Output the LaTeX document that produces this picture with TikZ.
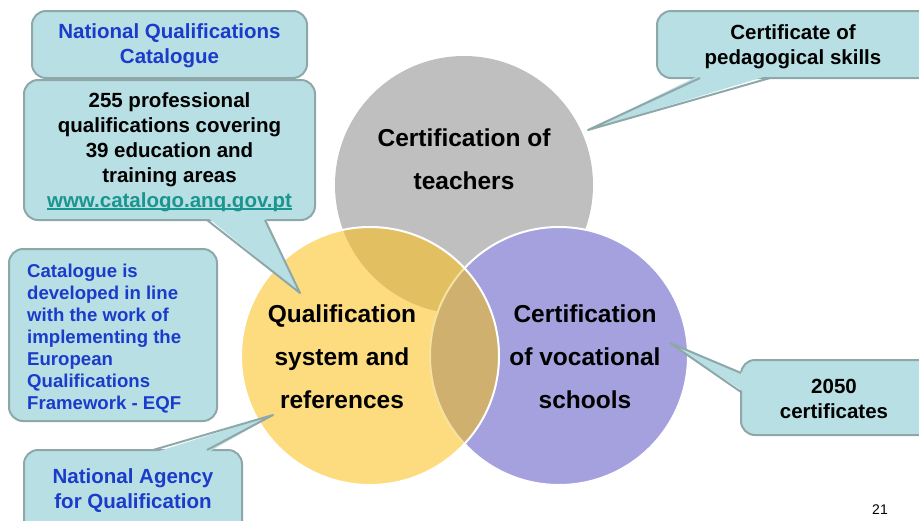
\documentclass[tikz,border=0pt]{standalone}
\usepackage{fontspec}
\setmainfont{Liberation Sans}
\usetikzlibrary{calc}
\definecolor{cgray}{HTML}{BFBFBF}
\definecolor{cyel}{HTML}{FDDC80}
\definecolor{cpur}{HTML}{A4A1DE}
\definecolor{cgy}{HTML}{E2C062}
\definecolor{cyp}{HTML}{CFB06E}
\definecolor{cline}{HTML}{F6E2A0}
\definecolor{bfill}{HTML}{B8DFE3}
\definecolor{bline}{HTML}{8EA8A9}
\definecolor{tblue}{HTML}{1B3BCB}
\definecolor{tlink}{HTML}{1A9590}
\newcommand\ulx[1]{\setbox0\hbox{#1}\rlap{\rule[-2.4pt]{\wd0}{1.8pt}}\box0}
\tikzset{
  callbox/.style={draw=bline, fill=bfill, line width=2pt, rounded corners=14pt, rectangle, inner sep=0pt},
  callside/.style={draw=bline, line width=2pt, line join=round},
  callfill/.style={fill=bfill},
  calltxt/.style={font=\bfseries\fontsize{20.5}{25}\selectfont, align=center, inner sep=0pt},
  smalltxt/.style={font=\bfseries\fontsize{18.6}{22}\selectfont, align=left, inner sep=0pt, text=tblue},
  circtxt/.style={font=\bfseries\fontsize{24.5}{43}\selectfont, align=center, inner sep=0pt},
  circ/.style={circle, minimum size=258pt, inner sep=0pt},
}
\begin{document}
\begin{tikzpicture}[x=1pt,y=-1pt]
\useasboundingbox (0,0) rectangle (919,520);
% circles
\node[circ, fill=cgray] (G) at (464,185) {};
\node[circ, fill=cpur, draw=white, line width=2pt] (P) at (559,356) {};
\node[circ, fill=cyel] (Y) at (370,356) {};
\begin{scope}
  \clip (Y.center) circle (129pt);
  \fill[cgy] (G.center) circle (129pt);
  \fill[cyp] (P.center) circle (129pt);
  \draw[cline, line width=2pt] (P.center) circle (129pt);
\end{scope}
\draw[white, line width=2pt] (Y.center) circle (129pt);
\node[circtxt] (GT) at (464,159) {Certification of\\teachers};
\node[circtxt] (YT) at (342,357) {Qualification\\system and\\references};
\node[circtxt] (PT) at (585,357) {Certification\\of vocational\\schools};
% box 1
\node[callbox, minimum width=275pt, minimum height=67pt] (B1) at (169.5,44.5) {};
\node[calltxt, text=tblue] (T1) at (169.5,46) {National Qualifications\\Catalogue};
% box 2
\node[callbox, minimum width=291pt, minimum height=140pt] (B2) at (169.5,150) {};
\coordinate (t2a) at (207,220);
\coordinate (t2b) at (265,220);
\coordinate (t2tip) at (300,293);
\fill[callfill] ($(t2a)+(0,-3)$) -- (t2tip) -- ($(t2b)+(0,-3)$) -- cycle;
\draw[callside] (t2a) -- (t2tip) -- (t2b);
\node[calltxt] (T2) at (169.5,152.5) {255 professional\\qualifications covering\\39 education and\\training areas\\{\color{tlink}\ulx{www.catalogo.anq.gov.pt}}};
% box 3
\node[callbox, minimum width=208pt, minimum height=172pt] (B3) at (113,335) {};
\node[smalltxt, anchor=west] (T3) at (27,339) {Catalogue is\\developed in line\\with the work of\\implementing the\\European\\Qualifications\\Framework - EQF};
% box 4
\node[callbox, minimum width=218pt, minimum height=90pt] (B4) at (133,495) {};
\coordinate (t4a) at (153,450);
\coordinate (t4b) at (207,450);
\coordinate (t4tip) at (273,415);
\fill[callfill] ($(t4a)+(0,3)$) -- (t4tip) -- ($(t4b)+(0,3)$) -- cycle;
\draw[callside] (t4a) -- (t4tip) -- (t4b);
\node[calltxt, text=tblue] (T4) at (133,491) {National Agency\\for Qualification};
% box 5
\node[callbox, minimum width=275pt, minimum height=67pt] (B5) at (794.5,44.5) {};
\coordinate (t5a) at (700,78);
\coordinate (t5b) at (770,78);
\coordinate (t5tip) at (588,130);
\fill[callfill] ($(t5a)+(0,-3)$) -- (t5tip) -- ($(t5b)+(0,-3)$) -- cycle;
\draw[callside] (t5a) -- (t5tip) -- (t5b);
\node[calltxt] (T5) at (793,47) {Certificate of\\pedagogical skills};
% box 6
\node[callbox, minimum width=200pt, minimum height=75pt] (B6) at (841,397.5) {};
\coordinate (t6a) at (741,373);
\coordinate (t6b) at (741,392);
\coordinate (t6tip) at (670,343);
\fill[callfill] ($(t6a)+(3,0)$) -- (t6tip) -- ($(t6b)+(3,0)$) -- cycle;
\draw[callside] (t6a) -- (t6tip) -- (t6b);
\node[calltxt] (T6) at (834,398.5) {2050\\certificates};
% page number
\node[font=\fontsize{14}{16}\selectfont, inner sep=0pt] (pg) at (880,510) {21};
\end{tikzpicture}
\end{document}
